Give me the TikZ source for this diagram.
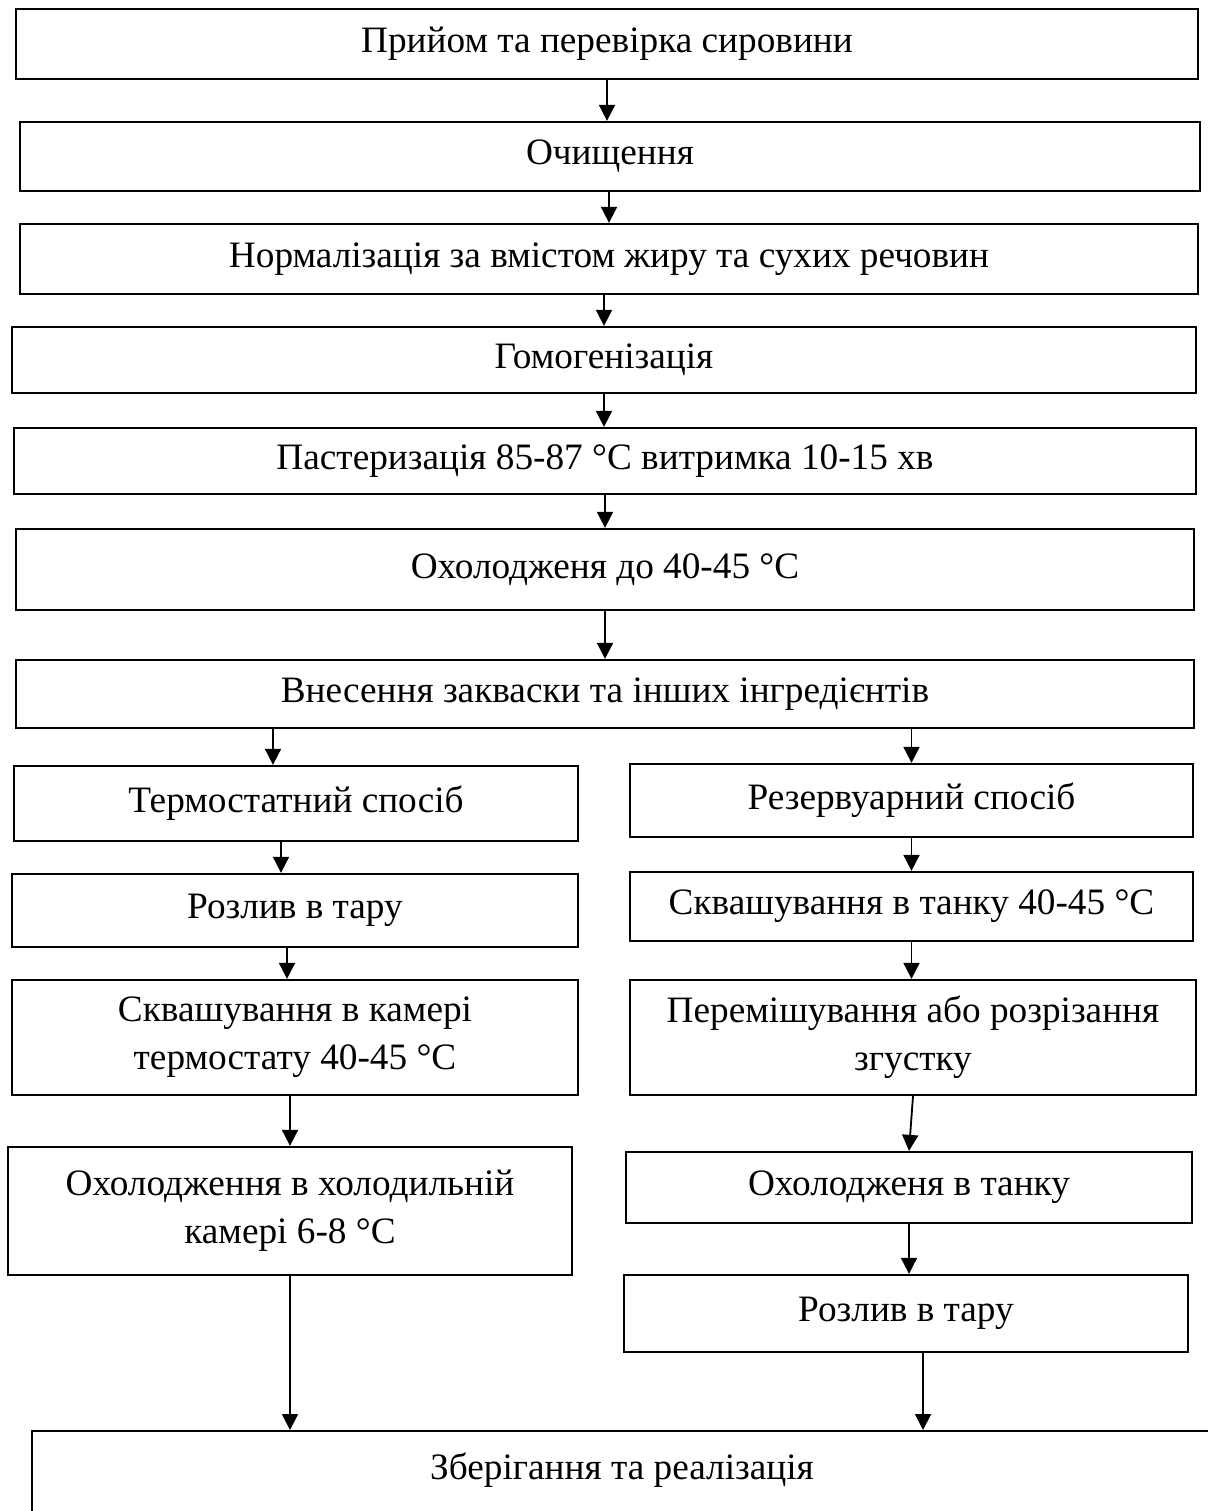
\documentclass[tikz,border=0pt]{standalone}
\usepackage{fontspec}
\setmainfont{Liberation Serif}
\usetikzlibrary{arrows.meta}

\begin{document}
\begin{tikzpicture}[
    x=0.025cm, y=-0.025cm,
    stage/.style={draw, line width=1.6pt, align=center, inner sep=2pt, font=\fontsize{26.5}{34}\selectfont},
    arrow/.style={-{Triangle[length=4mm, width=4mm]}, line width=1.3pt}
]
\useasboundingbox (0,0) rectangle (1208,1511);

% Common line
\node[stage, minimum width=29.55cm, minimum height=1.75cm] (intake) at (607,44) {Прийом та перевірка сировини};
\node[stage, minimum width=29.5cm, minimum height=1.725cm] (clean) at (610,156.5) {Очищення};
\node[stage, minimum width=29.45cm, minimum height=1.75cm] (norm) at (609,259) {Нормалізація за вмістом жиру та сухих речовин};
\node[stage, minimum width=29.6cm, minimum height=1.65cm] (homog) at (604,360) {Гомогенізація};
\node[stage, minimum width=29.55cm, minimum height=1.65cm] (past) at (605,461) {Пастеризація 85-87 °C витримка 10-15 хв};
\node[stage, minimum width=29.45cm, minimum height=2.025cm] (cool) at (605,569.5) {Охолодженя до 40-45 °C};
\node[stage, minimum width=29.45cm, minimum height=1.7cm] (starter) at (605,694) {Внесення закваски та інших інгредієнтів};

% Thermostat branch
\node[stage, minimum width=14.1cm, minimum height=1.875cm] (thermo) at (296,803.5) {Термостатний спосіб};
\node[stage, minimum width=14.15cm, minimum height=1.825cm] (fillL) at (295,910.5) {Розлив в тару};
\node[stage, minimum width=14.15cm, minimum height=2.875cm] (fermL) at (295,1037.5) {Сквашування в камері\\термостату 40-45 °C};
\node[stage, minimum width=14.1cm, minimum height=3.2cm] (coolL) at (290,1211) {Охолодження в холодильній\\камері 6-8 °C};

% Tank branch
\node[stage, minimum width=14.075cm, minimum height=1.825cm] (tank) at (911.5,800.5) {Резервуарний спосіб};
\node[stage, minimum width=14.075cm, minimum height=1.725cm] (fermR) at (911.5,906.5) {Сквашування в танку 40-45 °C};
\node[stage, minimum width=14.15cm, minimum height=2.875cm] (mix) at (913,1037.5) {Перемішування або розрізання\\згустку};
\node[stage, minimum width=14.15cm, minimum height=1.775cm] (coolR) at (909,1187.5) {Охолодженя в танку};
\node[stage, minimum width=14.1cm, minimum height=1.925cm] (fillR) at (906,1313.5) {Розлив в тару};

% Final step
\node[stage, anchor=north, minimum width=29.5cm, text height=1.15cm, text depth=1.5cm] (store) at (622,1430) {Зберігання та реалізація};

% Arrow positions off the box centres
\coordinate (t1) at ([xshift=-0.575cm]thermo.north);
\coordinate (t2) at ([xshift=-0.35cm]fillL.north);
\coordinate (t3) at ([xshift=-0.2cm]fermL.north);
\coordinate (r5) at ([xshift=0.425cm]fillR.south);

% Arrows
\draw[arrow] (intake.south) -- (intake.south |- clean.north);
\draw[arrow] (norm.north |- clean.south) -- (norm.north);
\draw[arrow] (homog.north |- norm.south) -- (homog.north);
\draw[arrow] (homog.south) -- (homog.south |- past.north);
\draw[arrow] (past.south) -- (past.south |- cool.north);
\draw[arrow] (cool.south) -- (cool.south |- starter.north);
\draw[arrow] (starter.south -| t1) -- (t1);
\draw[arrow] (starter.south -| tank.north) -- (tank.north);
\draw[arrow] (thermo.south -| t2) -- (t2);
\draw[arrow] (fillL.south -| t3) -- (t3);
\draw[arrow] (fermL.south -| coolL.north) -- (coolL.north);
\draw[arrow] (coolL.south) -- (coolL.south |- store.north);
\draw[arrow] (tank.south) -- (tank.south |- fermR.north);
\draw[arrow] (fermR.south) -- (fermR.south |- mix.north);
\draw[arrow] (mix.south) -- (coolR.north);
\draw[arrow] (coolR.south) -- (coolR.south |- fillR.north);
\draw[arrow] (r5) -- (r5 |- store.north);

\end{tikzpicture}
\end{document}
